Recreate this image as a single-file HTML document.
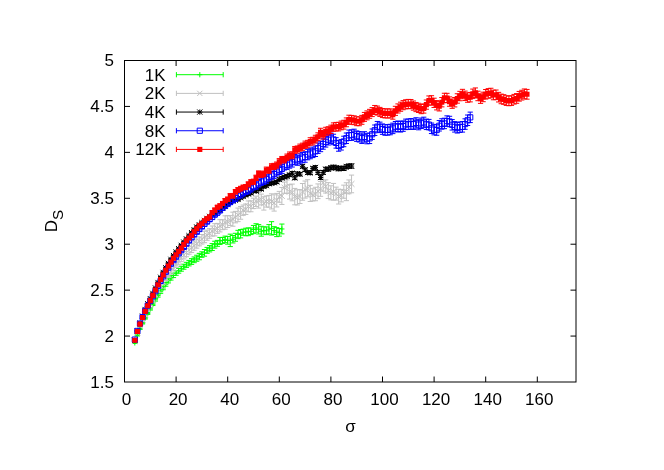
<!DOCTYPE html>
<html><head><meta charset="utf-8"><title>D_S vs sigma</title>
<style>
html,body{margin:0;padding:0;background:#fff;}
body{width:664px;height:470px;overflow:hidden;font-family:"Liberation Sans",sans-serif;}
</style></head><body>
<svg width="664" height="470" viewBox="0 0 664 470" style="display:block;will-change:transform;font-family:'Liberation Sans',sans-serif;font-size:17.0px">
<rect width="664" height="470" fill="#fff"/>
<path d="M124.5 336.07h5.5M576.0 336.07h-5.5M124.5 290.14h5.5M576.0 290.14h-5.5M124.5 244.21h5.5M576.0 244.21h-5.5M124.5 198.29h5.5M576.0 198.29h-5.5M124.5 152.36h5.5M576.0 152.36h-5.5M124.5 106.43h5.5M576.0 106.43h-5.5M176.10 382.0v-5.5M176.10 60.5v5.5M227.70 382.0v-5.5M227.70 60.5v5.5M279.30 382.0v-5.5M279.30 60.5v5.5M330.90 382.0v-5.5M330.90 60.5v5.5M382.50 382.0v-5.5M382.50 60.5v5.5M434.10 382.0v-5.5M434.10 60.5v5.5M485.70 382.0v-5.5M485.70 60.5v5.5M537.30 382.0v-5.5M537.30 60.5v5.5" stroke="#000" stroke-width="1" fill="none"/>
<text x="114.00" y="387.90" text-anchor="end">1.5</text>
<text x="114.00" y="341.97" text-anchor="end">2</text>
<text x="114.00" y="296.04" text-anchor="end">2.5</text>
<text x="114.00" y="250.11" text-anchor="end">3</text>
<text x="114.00" y="204.19" text-anchor="end">3.5</text>
<text x="114.00" y="158.26" text-anchor="end">4</text>
<text x="114.00" y="112.33" text-anchor="end">4.5</text>
<text x="114.00" y="66.40" text-anchor="end">5</text>
<text x="126.50" y="405.15" text-anchor="middle">0</text>
<text x="178.10" y="405.15" text-anchor="middle">20</text>
<text x="229.70" y="405.15" text-anchor="middle">40</text>
<text x="281.30" y="405.15" text-anchor="middle">60</text>
<text x="332.90" y="405.15" text-anchor="middle">80</text>
<text x="384.50" y="405.15" text-anchor="middle">100</text>
<text x="436.10" y="405.15" text-anchor="middle">120</text>
<text x="487.70" y="405.15" text-anchor="middle">140</text>
<text x="539.30" y="405.15" text-anchor="middle">160</text>
<text x="350.5" y="431.5" text-anchor="middle">σ</text>
<text transform="translate(57.4 232.2) rotate(-90)">D<tspan dy="5.6" font-size="15.30px">S</tspan></text>
<path d="M134.82 342.41V343.51M132.22 342.41H137.42M132.22 343.51H137.42M137.40 334.71V335.99M134.80 334.71H140.00M134.80 335.99H140.00M139.98 327.99V329.46M137.38 327.99H142.58M137.38 329.46H142.58M142.56 322.33V323.98M139.96 322.33H145.16M139.96 323.98H145.16M145.14 317.24V319.08M142.54 317.24H147.74M142.54 319.08H147.74M147.72 312.48V314.50M145.12 312.48H150.32M145.12 314.50H150.32M150.30 307.87V310.08M147.70 307.87H152.90M147.70 310.08H152.90M152.88 303.06V305.53M150.28 303.06H155.48M150.28 305.53H155.48M155.46 298.39V301.12M152.86 298.39H158.06M152.86 301.12H158.06M158.04 294.12V297.11M155.44 294.12H160.64M155.44 297.11H160.64M160.62 290.10V293.35M158.02 290.10H163.22M158.02 293.35H163.22M163.20 286.22V289.74M160.60 286.22H165.80M160.60 289.74H165.80M165.78 282.42V286.19M163.18 282.42H168.38M163.18 286.19H168.38M168.36 278.91V282.93M165.76 278.91H170.96M165.76 282.93H170.96M170.94 275.94V280.09M168.34 275.94H173.54M168.34 280.09H173.54M173.52 273.25V277.58M170.92 273.25H176.12M170.92 277.58H176.12M176.10 270.78V275.27M173.50 270.78H178.70M173.50 275.27H178.70M178.68 268.42V273.18M176.08 268.42H181.28M176.08 273.18H181.28M181.26 266.23V271.19M178.66 266.23H183.86M178.66 271.19H183.86M183.84 264.23V269.21M181.24 264.23H186.44M181.24 269.21H186.44M186.42 262.31V267.42M183.82 262.31H189.02M183.82 267.42H189.02M189.00 260.42V265.90M186.40 260.42H191.60M186.40 265.90H191.60M191.58 258.67V264.42M188.98 258.67H194.18M188.98 264.42H194.18M194.16 256.95V262.70M191.56 256.95H196.76M191.56 262.70H196.76M196.74 255.22V261.27M194.14 255.22H199.34M194.14 261.27H199.34M199.32 253.37V259.77M196.72 253.37H201.92M196.72 259.77H201.92M201.90 251.79V257.30M199.30 251.79H204.50M199.30 257.30H204.50M204.48 249.53V256.17M201.88 249.53H207.08M201.88 256.17H207.08M207.06 247.40V253.33M204.46 247.40H209.66M204.46 253.33H209.66M209.64 245.59V251.90M207.04 245.59H212.24M207.04 251.90H212.24M212.22 243.61V250.52M209.62 243.61H214.82M209.62 250.52H214.82M214.80 241.24V248.14M212.20 241.24H217.40M212.20 248.14H217.40M217.38 240.38V246.34M214.78 240.38H219.98M214.78 246.34H219.98M219.96 237.43V244.44M217.36 237.43H222.56M217.36 244.44H222.56M222.54 237.46V243.36M219.94 237.46H225.14M219.94 243.36H225.14M225.12 236.11V242.68M222.52 236.11H227.72M222.52 242.68H227.72M227.70 236.47V244.18M225.10 236.47H230.30M225.10 244.18H230.30M230.28 234.16V246.60M227.68 234.16H232.88M227.68 246.60H232.88M232.86 235.50V242.96M230.26 235.50H235.46M230.26 242.96H235.46M235.44 233.30V241.24M232.84 233.30H238.04M232.84 241.24H238.04M238.02 230.33V238.67M235.42 230.33H240.62M235.42 238.67H240.62M240.60 229.55V237.86M238.00 229.55H243.20M238.00 237.86H243.20M243.18 229.15V235.29M240.58 229.15H245.78M240.58 235.29H245.78M245.76 228.23V235.74M243.16 228.23H248.36M243.16 235.74H248.36M248.34 227.91V235.66M245.74 227.91H250.94M245.74 235.66H250.94M250.92 228.03V234.59M248.32 228.03H253.52M248.32 234.59H253.52M253.50 225.44V233.65M250.90 225.44H256.10M250.90 233.65H256.10M256.08 223.72V232.26M253.48 223.72H258.68M253.48 232.26H258.68M258.66 224.58V233.97M256.06 224.58H261.26M256.06 233.97H261.26M261.24 226.28V236.18M258.64 226.28H263.84M258.64 236.18H263.84M263.82 226.92V234.18M261.22 226.92H266.42M261.22 234.18H266.42M266.40 226.95V234.65M263.80 226.95H269.00M263.80 234.65H269.00M268.98 224.60V233.82M266.38 224.60H271.58M266.38 233.82H271.58M271.56 221.67V235.02M268.96 221.67H274.16M268.96 235.02H274.16M274.14 226.68V234.44M271.54 226.68H276.74M271.54 234.44H276.74M276.72 227.62V236.64M274.12 227.62H279.32M274.12 236.64H279.32M279.30 228.52V236.14M276.70 228.52H281.90M276.70 236.14H281.90M281.88 224.06V233.87M279.28 224.06H284.48M279.28 233.87H284.48" stroke="#00ff00" fill="none" stroke-width="1"/>
<path d="M132.22 342.96H137.42M134.82 340.36V345.56M134.80 335.35H140.00M137.40 332.75V337.95M137.38 328.72H142.58M139.98 326.12V331.32M139.96 323.15H145.16M142.56 320.55V325.75M142.54 318.16H147.74M145.14 315.56V320.76M145.12 313.49H150.32M147.72 310.89V316.09M147.70 308.97H152.90M150.30 306.37V311.57M150.28 304.30H155.48M152.88 301.70V306.90M152.86 299.76H158.06M155.46 297.16V302.36M155.44 295.61H160.64M158.04 293.01V298.21M158.02 291.73H163.22M160.62 289.13V294.33M160.60 287.98H165.80M163.20 285.38V290.58M163.18 284.31H168.38M165.78 281.71V286.91M165.76 280.92H170.96M168.36 278.32V283.52M168.34 278.01H173.54M170.94 275.41V280.61M170.92 275.42H176.12M173.52 272.82V278.02M173.50 273.02H178.70M176.10 270.42V275.62M176.08 270.80H181.28M178.68 268.20V273.40M178.66 268.71H183.86M181.26 266.11V271.31M181.24 266.72H186.44M183.84 264.12V269.32M183.82 264.86H189.02M186.42 262.26V267.46M186.40 263.16H191.60M189.00 260.56V265.76M188.98 261.55H194.18M191.58 258.95V264.15M191.56 259.82H196.76M194.16 257.22V262.42M194.14 258.24H199.34M196.74 255.64V260.84M196.72 256.57H201.92M199.32 253.97V259.17M199.30 254.55H204.50M201.90 251.95V257.15M201.88 252.85H207.08M204.48 250.25V255.45M204.46 250.37H209.66M207.06 247.77V252.97M207.04 248.74H212.24M209.64 246.14V251.34M209.62 247.06H214.82M212.22 244.46V249.66M212.20 244.69H217.40M214.80 242.09V247.29M214.78 243.36H219.98M217.38 240.76V245.96M217.36 240.94H222.56M219.96 238.34V243.54M219.94 240.41H225.14M222.54 237.81V243.01M222.52 239.39H227.72M225.12 236.79V241.99M225.10 240.33H230.30M227.70 237.73V242.93M227.68 240.38H232.88M230.28 237.78V242.98M230.26 239.23H235.46M232.86 236.63V241.83M232.84 237.27H238.04M235.44 234.67V239.87M235.42 234.50H240.62M238.02 231.90V237.10M238.00 233.71H243.20M240.60 231.11V236.31M240.58 232.22H245.78M243.18 229.62V234.82M243.16 231.98H248.36M245.76 229.38V234.58M245.74 231.78H250.94M248.34 229.18V234.38M248.32 231.31H253.52M250.92 228.71V233.91M250.90 229.54H256.10M253.50 226.94V232.14M253.48 227.99H258.68M256.08 225.39V230.59M256.06 229.28H261.26M258.66 226.68V231.88M258.64 231.23H263.84M261.24 228.63V233.83M261.22 230.55H266.42M263.82 227.95V233.15M263.80 230.80H269.00M266.40 228.20V233.40M266.38 229.21H271.58M268.98 226.61V231.81M268.96 228.35H274.16M271.56 225.75V230.95M271.54 230.56H276.74M274.14 227.96V233.16M274.12 232.13H279.32M276.72 229.53V234.73M276.70 232.33H281.90M279.30 229.73V234.93M279.28 228.96H284.48M281.88 226.36V231.56" stroke="#00ff00" fill="none" stroke-width="1"/>

<path d="M134.82 340.76V341.49M132.22 340.76H137.42M132.22 341.49H137.42M137.40 332.55V333.56M134.80 332.55H140.00M134.80 333.56H140.00M139.98 325.32V326.61M137.38 325.32H142.58M137.38 326.61H142.58M142.56 319.16V320.72M139.96 319.16H145.16M139.96 320.72H145.16M145.14 313.57V315.40M142.54 313.57H147.74M142.54 315.40H147.74M147.72 308.25V310.36M145.12 308.25H150.32M145.12 310.36H150.32M150.30 303.19V305.57M147.70 303.19H152.90M147.70 305.57H152.90M152.88 298.12V300.93M150.28 298.12H155.48M150.28 300.93H155.48M155.46 293.10V296.34M152.86 293.10H158.06M152.86 296.34H158.06M158.04 288.27V291.92M155.44 288.27H160.64M155.44 291.92H160.64M160.62 283.72V287.80M158.02 283.72H163.22M158.02 287.80H163.22M163.20 279.57V284.07M160.60 279.57H165.80M160.60 284.07H165.80M165.78 275.73V280.66M163.18 275.73H168.38M163.18 280.66H168.38M168.36 272.08V277.40M165.76 272.08H170.96M165.76 277.40H170.96M170.94 268.37V274.26M168.34 268.37H173.54M168.34 274.26H173.54M173.52 264.83V270.88M170.92 264.83H176.12M170.92 270.88H176.12M176.10 261.24V267.64M173.50 261.24H178.70M173.50 267.64H178.70M178.68 257.58V264.68M176.08 257.58H181.28M176.08 264.68H181.28M181.26 254.40V261.61M178.66 254.40H183.86M178.66 261.61H183.86M183.84 251.38V258.91M181.24 251.38H186.44M181.24 258.91H186.44M186.42 248.35V256.76M183.82 248.35H189.02M183.82 256.76H189.02M189.00 246.08V254.23M186.40 246.08H191.60M186.40 254.23H191.60M191.58 243.22V252.47M188.98 243.22H194.18M188.98 252.47H194.18M194.16 241.03V250.31M191.56 241.03H196.76M191.56 250.31H196.76M196.74 239.04V248.14M194.14 239.04H199.34M194.14 248.14H199.34M199.32 236.96V245.83M196.72 236.96H201.92M196.72 245.83H201.92M201.90 234.49V244.03M199.30 234.49H204.50M199.30 244.03H204.50M204.48 231.28V242.67M201.88 231.28H207.08M201.88 242.67H207.08M207.06 230.13V240.31M204.46 230.13H209.66M204.46 240.31H209.66M209.64 228.68V238.31M207.04 228.68H212.24M207.04 238.31H212.24M212.22 225.98V236.12M209.62 225.98H214.82M209.62 236.12H214.82M214.80 223.70V235.88M212.20 223.70H217.40M212.20 235.88H217.40M217.38 223.43V233.35M214.78 223.43H219.98M214.78 233.35H219.98M219.96 219.68V231.91M217.36 219.68H222.56M217.36 231.91H222.56M222.54 219.71V229.69M219.94 219.71H225.14M219.94 229.69H225.14M225.12 215.82V229.23M222.52 215.82H227.72M222.52 229.23H227.72M227.70 215.67V227.50M225.10 215.67H230.30M225.10 227.50H230.30M230.28 215.65V225.44M227.68 215.65H232.88M227.68 225.44H232.88M232.86 212.17V226.23M230.26 212.17H235.46M230.26 226.23H235.46M235.44 211.36V222.83M232.84 211.36H238.04M232.84 222.83H238.04M238.02 208.08V221.63M235.42 208.08H240.62M235.42 221.63H240.62M240.60 206.60V219.22M238.00 206.60H243.20M238.00 219.22H243.20M243.18 205.03V215.35M240.58 205.03H245.78M240.58 215.35H245.78M245.76 203.97V214.44M243.16 203.97H248.36M243.16 214.44H248.36M248.34 200.94V211.73M245.74 200.94H250.94M245.74 211.73H250.94M250.92 200.83V211.76M248.32 200.83H253.52M248.32 211.76H253.52M253.50 198.18V208.57M250.90 198.18H256.10M250.90 208.57H256.10M256.08 196.13V206.55M253.48 196.13H258.68M253.48 206.55H258.68M258.66 192.39V208.08M256.06 192.39H261.26M256.06 208.08H261.26M261.24 194.12V204.95M258.64 194.12H263.84M258.64 204.95H263.84M263.82 196.74V210.08M261.22 196.74H266.42M261.22 210.08H266.42M266.40 195.93V207.06M263.80 195.93H269.00M263.80 207.06H269.00M268.98 195.42V207.20M266.38 195.42H271.58M266.38 207.20H271.58M271.56 193.80V208.92M268.96 193.80H274.16M268.96 208.92H274.16M274.14 194.81V211.08M271.54 194.81H276.74M271.54 211.08H276.74M276.72 193.40V206.95M274.12 193.40H279.32M274.12 206.95H279.32M279.30 191.39V202.20M276.70 191.39H281.90M276.70 202.20H281.90M281.88 187.48V204.44M279.28 187.48H284.48M279.28 204.44H284.48M284.46 182.02V193.22M281.86 182.02H287.06M281.86 193.22H287.06M287.04 179.92V193.32M284.44 179.92H289.64M284.44 193.32H289.64M289.62 184.67V199.08M287.02 184.67H292.22M287.02 199.08H292.22M292.20 184.09V200.81M289.60 184.09H294.80M289.60 200.81H294.80M294.78 188.42V204.80M292.18 188.42H297.38M292.18 204.80H297.38M297.36 189.81V204.94M294.76 189.81H299.96M294.76 204.94H299.96M299.94 189.60V203.47M297.34 189.60H302.54M297.34 203.47H302.54M302.52 183.50V200.26M299.92 183.50H305.12M299.92 200.26H305.12M305.10 181.02V198.10M302.50 181.02H307.70M302.50 198.10H307.70M307.68 179.66V196.79M305.08 179.66H310.28M305.08 196.79H310.28M310.26 185.34V201.49M307.66 185.34H312.86M307.66 201.49H312.86M312.84 188.75V200.90M310.24 188.75H315.44M310.24 200.90H315.44M315.42 187.26V200.73M312.82 187.26H318.02M312.82 200.73H318.02M318.00 183.91V198.62M315.40 183.91H320.60M315.40 198.62H320.60M320.58 181.46V196.31M317.98 181.46H323.18M317.98 196.31H323.18M323.16 174.13V191.15M320.56 174.13H325.76M320.56 191.15H325.76M325.74 179.89V193.03M323.14 179.89H328.34M323.14 193.03H328.34M328.32 182.61V198.56M325.72 182.61H330.92M325.72 198.56H330.92M330.90 185.78V199.85M328.30 185.78H333.50M328.30 199.85H333.50M333.48 183.41V200.14M330.88 183.41H336.08M330.88 200.14H336.08M336.06 187.13V200.07M333.46 187.13H338.66M333.46 200.07H338.66M338.64 189.19V204.00M336.04 189.19H341.24M336.04 204.00H341.24M341.22 189.52V201.89M338.62 189.52H343.82M338.62 201.89H343.82M343.80 185.13V198.23M341.20 185.13H346.40M341.20 198.23H346.40M346.38 182.75V200.65M343.78 182.75H348.98M343.78 200.65H348.98M348.96 179.93V193.76M346.36 179.93H351.56M346.36 193.76H351.56M351.54 175.09V192.76M348.94 175.09H354.14M348.94 192.76H354.14" stroke="#c0c0c0" fill="none" stroke-width="1"/>
<path d="M131.92 338.22L137.72 344.02M131.92 344.02L137.72 338.22M134.50 330.15L140.30 335.95M134.50 335.95L140.30 330.15M137.08 323.07L142.88 328.87M137.08 328.87L142.88 323.07M139.66 317.04L145.46 322.84M139.66 322.84L145.46 317.04M142.24 311.59L148.04 317.38M142.24 317.38L148.04 311.59M144.82 306.40L150.62 312.20M144.82 312.20L150.62 306.40M147.40 301.48L153.20 307.28M147.40 307.28L153.20 301.48M149.98 296.62L155.78 302.42M149.98 302.42L155.78 296.62M152.56 291.82L158.36 297.62M152.56 297.62L158.36 291.82M155.14 287.20L160.94 293.00M155.14 293.00L160.94 287.20M157.72 282.86L163.52 288.66M157.72 288.66L163.52 282.86M160.30 278.92L166.10 284.72M160.30 284.72L166.10 278.92M162.88 275.29L168.68 281.09M162.88 281.09L168.68 275.29M165.46 271.84L171.26 277.64M165.46 277.64L171.26 271.84M168.04 268.42L173.84 274.22M168.04 274.22L173.84 268.42M170.62 264.96L176.42 270.76M170.62 270.76L176.42 264.96M173.20 261.54L179.00 267.34M173.20 267.34L179.00 261.54M175.78 258.23L181.58 264.03M175.78 264.03L181.58 258.23M178.36 255.10L184.16 260.90M178.36 260.90L184.16 255.10M180.94 252.25L186.74 258.05M180.94 258.05L186.74 252.25M183.52 249.65L189.32 255.45M183.52 255.45L189.32 249.65M186.10 247.25L191.90 253.05M186.10 253.05L191.90 247.25M188.68 244.95L194.48 250.75M188.68 250.75L194.48 244.95M191.26 242.77L197.06 248.57M191.26 248.57L197.06 242.77M193.84 240.69L199.64 246.49M193.84 246.49L199.64 240.69M196.42 238.49L202.22 244.29M196.42 244.29L202.22 238.49M199.00 236.36L204.80 242.16M199.00 242.16L204.80 236.36M201.58 234.08L207.38 239.88M201.58 239.88L207.38 234.08M204.16 232.32L209.96 238.12M204.16 238.12L209.96 232.32M206.74 230.60L212.54 236.40M206.74 236.40L212.54 230.60M209.32 228.15L215.12 233.95M209.32 233.95L215.12 228.15M211.90 226.89L217.70 232.69M211.90 232.69L217.70 226.89M214.48 225.49L220.28 231.29M214.48 231.29L220.28 225.49M217.06 222.89L222.86 228.69M217.06 228.69L222.86 222.89M219.64 221.80L225.44 227.60M219.64 227.60L225.44 221.80M222.22 219.63L228.02 225.43M222.22 225.43L228.02 219.63M224.80 218.68L230.60 224.48M224.80 224.48L230.60 218.68M227.38 217.64L233.18 223.44M227.38 223.44L233.18 217.64M229.96 216.30L235.76 222.10M229.96 222.10L235.76 216.30M232.54 214.20L238.34 220.00M232.54 220.00L238.34 214.20M235.12 211.95L240.92 217.75M235.12 217.75L240.92 211.95M237.70 210.01L243.50 215.81M237.70 215.81L243.50 210.01M240.28 207.29L246.08 213.09M240.28 213.09L246.08 207.29M242.86 206.31L248.66 212.11M242.86 212.11L248.66 206.31M245.44 203.44L251.24 209.24M245.44 209.24L251.24 203.44M248.02 203.39L253.82 209.19M248.02 209.19L253.82 203.39M250.60 200.48L256.40 206.28M250.60 206.28L256.40 200.48M253.18 198.44L258.98 204.24M253.18 204.24L258.98 198.44M255.76 197.34L261.56 203.14M255.76 203.14L261.56 197.34M258.34 196.63L264.14 202.43M258.34 202.43L264.14 196.63M260.92 200.51L266.72 206.31M260.92 206.31L266.72 200.51M263.50 198.60L269.30 204.40M263.50 204.40L269.30 198.60M266.08 198.41L271.88 204.21M266.08 204.21L271.88 198.41M268.66 198.46L274.46 204.26M268.66 204.26L274.46 198.46M271.24 200.04L277.04 205.84M271.24 205.84L277.04 200.04M273.82 197.28L279.62 203.08M273.82 203.08L279.62 197.28M276.40 193.90L282.20 199.70M276.40 199.70L282.20 193.90M278.98 193.06L284.78 198.86M278.98 198.86L284.78 193.06M281.56 184.72L287.36 190.52M281.56 190.52L287.36 184.72M284.14 183.72L289.94 189.52M284.14 189.52L289.94 183.72M286.72 188.98L292.52 194.78M286.72 194.78L292.52 188.98M289.30 189.55L295.10 195.35M289.30 195.35L295.10 189.55M291.88 193.71L297.68 199.51M291.88 199.51L297.68 193.71M294.46 194.48L300.26 200.28M294.46 200.28L300.26 194.48M297.04 193.63L302.84 199.43M297.04 199.43L302.84 193.63M299.62 188.98L305.42 194.78M299.62 194.78L305.42 188.98M302.20 186.66L308.00 192.46M302.20 192.46L308.00 186.66M304.78 185.33L310.58 191.13M304.78 191.13L310.58 185.33M307.36 190.51L313.16 196.31M307.36 196.31L313.16 190.51M309.94 191.92L315.74 197.72M309.94 197.72L315.74 191.92M312.52 191.10L318.32 196.90M312.52 196.90L318.32 191.10M315.10 188.37L320.90 194.17M315.10 194.17L320.90 188.37M317.68 185.98L323.48 191.78M317.68 191.78L323.48 185.98M320.26 179.74L326.06 185.54M320.26 185.54L326.06 179.74M322.84 183.56L328.64 189.36M322.84 189.36L328.64 183.56M325.42 187.68L331.22 193.48M325.42 193.48L331.22 187.68M328.00 189.92L333.80 195.72M328.00 195.72L333.80 189.92M330.58 188.88L336.38 194.68M330.58 194.68L336.38 188.88M333.16 190.70L338.96 196.50M333.16 196.50L338.96 190.70M335.74 193.69L341.54 199.49M335.74 199.49L341.54 193.69M338.32 192.81L344.12 198.61M338.32 198.61L344.12 192.81M340.90 188.78L346.70 194.58M340.90 194.58L346.70 188.78M343.48 188.80L349.28 194.60M343.48 194.60L349.28 188.80M346.06 183.94L351.86 189.74M346.06 189.74L351.86 183.94M348.64 181.02L354.44 186.82M348.64 186.82L354.44 181.02" stroke="#c0c0c0" fill="none" stroke-width="1"/>

<path d="M134.82 339.85V340.74M132.22 339.85H137.42M132.22 340.74H137.42M137.40 330.64V331.58M134.80 330.64H140.00M134.80 331.58H140.00M139.98 322.73V323.70M137.38 322.73H142.58M137.38 323.70H142.58M142.56 315.63V316.64M139.96 315.63H145.16M139.96 316.64H145.16M145.14 309.00V310.05M142.54 309.00H147.74M142.54 310.05H147.74M147.72 303.21V304.30M145.12 303.21H150.32M145.12 304.30H150.32M150.30 298.06V299.19M147.70 298.06H152.90M147.70 299.19H152.90M152.88 292.82V293.99M150.28 292.82H155.48M150.28 293.99H155.48M155.46 287.40V288.61M152.86 287.40H158.06M152.86 288.61H158.06M158.04 281.91V283.16M155.44 281.91H160.64M155.44 283.16H160.64M160.62 276.64V277.93M158.02 276.64H163.22M158.02 277.93H163.22M163.20 271.75V273.08M160.60 271.75H165.80M160.60 273.08H165.80M165.78 267.10V268.47M163.18 267.10H168.38M163.18 268.47H168.38M168.36 262.71V264.11M165.76 262.71H170.96M165.76 264.11H170.96M170.94 258.62V260.07M168.34 258.62H173.54M168.34 260.07H173.54M173.52 254.80V256.29M170.92 254.80H176.12M170.92 256.29H176.12M176.10 251.17V252.70M173.50 251.17H178.70M173.50 252.70H178.70M178.68 247.86V249.43M176.08 247.86H181.28M176.08 249.43H181.28M181.26 244.59V246.20M178.66 244.59H183.86M178.66 246.20H183.86M183.84 241.31V242.96M181.24 241.31H186.44M181.24 242.96H186.44M186.42 238.04V239.73M183.82 238.04H189.02M183.82 239.73H189.02M189.00 234.85V236.57M186.40 234.85H191.60M186.40 236.57H191.60M191.58 231.77V233.53M188.98 231.77H194.18M188.98 233.53H194.18M194.16 228.85V230.66M191.56 228.85H196.76M191.56 230.66H196.76M196.74 226.07V227.91M194.14 226.07H199.34M194.14 227.91H199.34M199.32 223.82V225.70M196.72 223.82H201.92M196.72 225.70H201.92M201.90 221.64V223.57M199.30 221.64H204.50M199.30 223.57H204.50M204.48 219.51V221.48M201.88 219.51H207.08M201.88 221.48H207.08M207.06 217.42V219.42M204.46 217.42H209.66M204.46 219.42H209.66M209.64 215.38V217.42M207.04 215.38H212.24M207.04 217.42H212.24M212.22 213.75V215.83M209.62 213.75H214.82M209.62 215.83H214.82M214.80 212.16V214.28M212.20 212.16H217.40M212.20 214.28H217.40M217.38 210.61V212.78M214.78 210.61H219.98M214.78 212.78H219.98M219.96 208.61V210.82M217.36 208.61H222.56M217.36 210.82H222.56M222.54 206.63V208.87M219.94 206.63H225.14M219.94 208.87H225.14M225.12 204.68V206.96M222.52 204.68H227.72M222.52 206.96H227.72M227.70 202.91V205.23M225.10 202.91H230.30M225.10 205.23H230.30M230.28 201.12V203.48M227.68 201.12H232.88M227.68 203.48H232.88M232.86 199.86V202.26M230.26 199.86H235.46M230.26 202.26H235.46M235.44 198.99V201.43M232.84 198.99H238.04M232.84 201.43H238.04M238.02 198.23V200.71M235.42 198.23H240.62M235.42 200.71H240.62M240.60 196.52V199.04M238.00 196.52H243.20M238.00 199.04H243.20M243.18 195.23V197.79M240.58 195.23H245.78M240.58 197.79H245.78M245.76 193.80V196.40M243.16 193.80H248.36M243.16 196.40H248.36M248.34 192.71V195.35M245.74 192.71H250.94M245.74 195.35H250.94M250.92 191.73V194.40M248.32 191.73H253.52M248.32 194.40H253.52M253.50 189.45V192.17M250.90 189.45H256.10M250.90 192.17H256.10M256.08 189.77V192.53M253.48 189.77H258.68M253.48 192.53H258.68M258.66 187.39V190.19M256.06 187.39H261.26M256.06 190.19H261.26M261.24 187.63V190.46M258.64 187.63H263.84M258.64 190.46H263.84M263.82 185.08V187.95M261.22 185.08H266.42M261.22 187.95H266.42M266.40 184.18V187.09M263.80 184.18H269.00M263.80 187.09H269.00M268.98 182.33V185.29M266.38 182.33H271.58M266.38 185.29H271.58M271.56 181.76V184.75M268.96 181.76H274.16M268.96 184.75H274.16M274.14 181.22V184.25M271.54 181.22H276.74M271.54 184.25H276.74M276.72 180.38V183.46M274.12 180.38H279.32M274.12 183.46H279.32M279.30 177.93V181.04M276.70 177.93H281.90M276.70 181.04H281.90M281.88 176.47V179.63M279.28 176.47H284.48M279.28 179.63H284.48M284.46 175.41V178.60M281.86 175.41H287.06M281.86 178.60H287.06M287.04 174.61V177.84M284.44 174.61H289.64M284.44 177.84H289.64M289.62 173.30V176.57M287.02 173.30H292.22M287.02 176.57H292.22M292.20 171.55V174.86M289.60 171.55H294.80M289.60 174.86H294.80M294.78 176.22V179.57M292.18 176.22H297.38M292.18 179.57H297.38M297.36 172.01V175.40M294.76 172.01H299.96M294.76 175.40H299.96M299.94 172.41V175.84M297.34 172.41H302.54M297.34 175.84H302.54M302.52 164.62V168.09M299.92 164.62H305.12M299.92 168.09H305.12M305.10 168.05V171.56M302.50 168.05H307.70M302.50 171.56H307.70M307.68 170.78V174.33M305.08 170.78H310.28M305.08 174.33H310.28M310.26 171.00V174.59M307.66 171.00H312.86M307.66 174.59H312.86M312.84 166.73V170.36M310.24 166.73H315.44M310.24 170.36H315.44M315.42 165.61V169.28M312.82 165.61H318.02M312.82 169.28H318.02M318.00 170.65V174.36M315.40 170.65H320.60M315.40 174.36H320.60M320.58 175.65V179.40M317.98 175.65H323.18M317.98 179.40H323.18M323.16 170.52V174.31M320.56 170.52H325.76M320.56 174.31H325.76M325.74 167.31V171.14M323.14 167.31H328.34M323.14 171.14H328.34M328.32 167.19V171.06M325.72 167.19H330.92M325.72 171.06H330.92M330.90 165.89V169.80M328.30 165.89H333.50M328.30 169.80H333.50M333.48 165.22V169.17M330.88 165.22H336.08M330.88 169.17H336.08M336.06 165.84V169.83M333.46 165.84H338.66M333.46 169.83H338.66M338.64 166.71V170.74M336.04 166.71H341.24M336.04 170.74H341.24M341.22 166.23V170.29M338.62 166.23H343.82M338.62 170.29H343.82M343.80 166.40V170.51M341.20 166.40H346.40M341.20 170.51H346.40M346.38 164.72V168.86M343.78 164.72H348.98M343.78 168.86H348.98M348.96 164.03V168.22M346.36 164.03H351.56M346.36 168.22H351.56M351.54 163.95V168.17M348.94 163.95H354.14M348.94 168.17H354.14" stroke="#000000" fill="none" stroke-width="1"/>
<path d="M132.22 340.30H137.42M134.82 337.70V342.90M132.22 337.70L137.42 342.90M132.22 342.90L137.42 337.70M134.80 331.11H140.00M137.40 328.51V333.71M134.80 328.51L140.00 333.71M134.80 333.71L140.00 328.51M137.38 323.21H142.58M139.98 320.61V325.81M137.38 320.61L142.58 325.81M137.38 325.81L142.58 320.61M139.96 316.14H145.16M142.56 313.54V318.74M139.96 313.54L145.16 318.74M139.96 318.74L145.16 313.54M142.54 309.52H147.74M145.14 306.92V312.12M142.54 306.92L147.74 312.12M142.54 312.12L147.74 306.92M145.12 303.75H150.32M147.72 301.15V306.35M145.12 301.15L150.32 306.35M145.12 306.35L150.32 301.15M147.70 298.62H152.90M150.30 296.02V301.22M147.70 296.02L152.90 301.22M147.70 301.22L152.90 296.02M150.28 293.40H155.48M152.88 290.80V296.00M150.28 290.80L155.48 296.00M150.28 296.00L155.48 290.80M152.86 288.00H158.06M155.46 285.40V290.60M152.86 285.40L158.06 290.60M152.86 290.60L158.06 285.40M155.44 282.53H160.64M158.04 279.93V285.13M155.44 279.93L160.64 285.13M155.44 285.13L160.64 279.93M158.02 277.28H163.22M160.62 274.68V279.88M158.02 274.68L163.22 279.88M158.02 279.88L163.22 274.68M160.60 272.42H165.80M163.20 269.82V275.02M160.60 269.82L165.80 275.02M160.60 275.02L165.80 269.82M163.18 267.78H168.38M165.78 265.18V270.38M163.18 265.18L168.38 270.38M163.18 270.38L168.38 265.18M165.76 263.41H170.96M168.36 260.81V266.01M165.76 260.81L170.96 266.01M165.76 266.01L170.96 260.81M168.34 259.34H173.54M170.94 256.74V261.94M168.34 256.74L173.54 261.94M168.34 261.94L173.54 256.74M170.92 255.54H176.12M173.52 252.94V258.14M170.92 252.94L176.12 258.14M170.92 258.14L176.12 252.94M173.50 251.94H178.70M176.10 249.34V254.54M173.50 249.34L178.70 254.54M173.50 254.54L178.70 249.34M176.08 248.64H181.28M178.68 246.04V251.24M176.08 246.04L181.28 251.24M176.08 251.24L181.28 246.04M178.66 245.39H183.86M181.26 242.79V247.99M178.66 242.79L183.86 247.99M178.66 247.99L183.86 242.79M181.24 242.13H186.44M183.84 239.53V244.73M181.24 239.53L186.44 244.73M181.24 244.73L186.44 239.53M183.82 238.89H189.02M186.42 236.29V241.49M183.82 236.29L189.02 241.49M183.82 241.49L189.02 236.29M186.40 235.71H191.60M189.00 233.11V238.31M186.40 233.11L191.60 238.31M186.40 238.31L191.60 233.11M188.98 232.65H194.18M191.58 230.05V235.25M188.98 230.05L194.18 235.25M188.98 235.25L194.18 230.05M191.56 229.75H196.76M194.16 227.15V232.35M191.56 227.15L196.76 232.35M191.56 232.35L196.76 227.15M194.14 226.99H199.34M196.74 224.39V229.59M194.14 224.39L199.34 229.59M194.14 229.59L199.34 224.39M196.72 224.76H201.92M199.32 222.16V227.36M196.72 222.16L201.92 227.36M196.72 227.36L201.92 222.16M199.30 222.60H204.50M201.90 220.00V225.20M199.30 220.00L204.50 225.20M199.30 225.20L204.50 220.00M201.88 220.49H207.08M204.48 217.89V223.09M201.88 217.89L207.08 223.09M201.88 223.09L207.08 217.89M204.46 218.42H209.66M207.06 215.82V221.02M204.46 215.82L209.66 221.02M204.46 221.02L209.66 215.82M207.04 216.40H212.24M209.64 213.80V219.00M207.04 213.80L212.24 219.00M207.04 219.00L212.24 213.80M209.62 214.79H214.82M212.22 212.19V217.39M209.62 212.19L214.82 217.39M209.62 217.39L214.82 212.19M212.20 213.22H217.40M214.80 210.62V215.82M212.20 210.62L217.40 215.82M212.20 215.82L217.40 210.62M214.78 211.70H219.98M217.38 209.10V214.30M214.78 209.10L219.98 214.30M214.78 214.30L219.98 209.10M217.36 209.71H222.56M219.96 207.11V212.31M217.36 207.11L222.56 212.31M217.36 212.31L222.56 207.11M219.94 207.75H225.14M222.54 205.15V210.35M219.94 205.15L225.14 210.35M219.94 210.35L225.14 205.15M222.52 205.82H227.72M225.12 203.22V208.42M222.52 203.22L227.72 208.42M222.52 208.42L227.72 203.22M225.10 204.07H230.30M227.70 201.47V206.67M225.10 201.47L230.30 206.67M225.10 206.67L230.30 201.47M227.68 202.30H232.88M230.28 199.70V204.90M227.68 199.70L232.88 204.90M227.68 204.90L232.88 199.70M230.26 201.06H235.46M232.86 198.46V203.66M230.26 198.46L235.46 203.66M230.26 203.66L235.46 198.46M232.84 200.21H238.04M235.44 197.61V202.81M232.84 197.61L238.04 202.81M232.84 202.81L238.04 197.61M235.42 199.47H240.62M238.02 196.87V202.07M235.42 196.87L240.62 202.07M235.42 202.07L240.62 196.87M238.00 197.78H243.20M240.60 195.18V200.38M238.00 195.18L243.20 200.38M238.00 200.38L243.20 195.18M240.58 196.51H245.78M243.18 193.91V199.11M240.58 193.91L245.78 199.11M240.58 199.11L245.78 193.91M243.16 195.10H248.36M245.76 192.50V197.70M243.16 192.50L248.36 197.70M243.16 197.70L248.36 192.50M245.74 194.03H250.94M248.34 191.43V196.63M245.74 191.43L250.94 196.63M245.74 196.63L250.94 191.43M248.32 193.07H253.52M250.92 190.47V195.67M248.32 190.47L253.52 195.67M248.32 195.67L253.52 190.47M250.90 190.81H256.10M253.50 188.21V193.41M250.90 188.21L256.10 193.41M250.90 193.41L256.10 188.21M253.48 191.15H258.68M256.08 188.55V193.75M253.48 188.55L258.68 193.75M253.48 193.75L258.68 188.55M256.06 188.79H261.26M258.66 186.19V191.39M256.06 186.19L261.26 191.39M256.06 191.39L261.26 186.19M258.64 189.04H263.84M261.24 186.44V191.64M258.64 186.44L263.84 191.64M258.64 191.64L263.84 186.44M261.22 186.52H266.42M263.82 183.92V189.12M261.22 183.92L266.42 189.12M261.22 189.12L266.42 183.92M263.80 185.64H269.00M266.40 183.04V188.24M263.80 183.04L269.00 188.24M263.80 188.24L269.00 183.04M266.38 183.81H271.58M268.98 181.21V186.41M266.38 181.21L271.58 186.41M266.38 186.41L271.58 181.21M268.96 183.25H274.16M271.56 180.65V185.85M268.96 180.65L274.16 185.85M268.96 185.85L274.16 180.65M271.54 182.74H276.74M274.14 180.14V185.34M271.54 180.14L276.74 185.34M271.54 185.34L276.74 180.14M274.12 181.92H279.32M276.72 179.32V184.52M274.12 179.32L279.32 184.52M274.12 184.52L279.32 179.32M276.70 179.49H281.90M279.30 176.89V182.09M276.70 176.89L281.90 182.09M276.70 182.09L281.90 176.89M279.28 178.05H284.48M281.88 175.45V180.65M279.28 175.45L284.48 180.65M279.28 180.65L284.48 175.45M281.86 177.01H287.06M284.46 174.41V179.61M281.86 174.41L287.06 179.61M281.86 179.61L287.06 174.41M284.44 176.23H289.64M287.04 173.63V178.83M284.44 173.63L289.64 178.83M284.44 178.83L289.64 173.63M287.02 174.94H292.22M289.62 172.34V177.54M287.02 172.34L292.22 177.54M287.02 177.54L292.22 172.34M289.60 173.21H294.80M292.20 170.61V175.81M289.60 170.61L294.80 175.81M289.60 175.81L294.80 170.61M292.18 177.90H297.38M294.78 175.30V180.50M292.18 175.30L297.38 180.50M292.18 180.50L297.38 175.30M294.76 173.70H299.96M297.36 171.10V176.30M294.76 171.10L299.96 176.30M294.76 176.30L299.96 171.10M297.34 174.12H302.54M299.94 171.52V176.72M297.34 171.52L302.54 176.72M297.34 176.72L302.54 171.52M299.92 166.35H305.12M302.52 163.75V168.95M299.92 163.75L305.12 168.95M299.92 168.95L305.12 163.75M302.50 169.80H307.70M305.10 167.20V172.40M302.50 167.20L307.70 172.40M302.50 172.40L307.70 167.20M305.08 172.55H310.28M307.68 169.95V175.15M305.08 169.95L310.28 175.15M305.08 175.15L310.28 169.95M307.66 172.79H312.86M310.26 170.19V175.39M307.66 170.19L312.86 175.39M307.66 175.39L312.86 170.19M310.24 168.54H315.44M312.84 165.94V171.14M310.24 165.94L315.44 171.14M310.24 171.14L315.44 165.94M312.82 167.45H318.02M315.42 164.85V170.05M312.82 164.85L318.02 170.05M312.82 170.05L318.02 164.85M315.40 172.51H320.60M318.00 169.91V175.11M315.40 169.91L320.60 175.11M315.40 175.11L320.60 169.91M317.98 177.52H323.18M320.58 174.92V180.12M317.98 174.92L323.18 180.12M317.98 180.12L323.18 174.92M320.56 172.42H325.76M323.16 169.82V175.02M320.56 169.82L325.76 175.02M320.56 175.02L325.76 169.82M323.14 169.23H328.34M325.74 166.63V171.83M323.14 166.63L328.34 171.83M323.14 171.83L328.34 166.63M325.72 169.13H330.92M328.32 166.53V171.73M325.72 166.53L330.92 171.73M325.72 171.73L330.92 166.53M328.30 167.84H333.50M330.90 165.24V170.44M328.30 165.24L333.50 170.44M328.30 170.44L333.50 165.24M330.88 167.19H336.08M333.48 164.59V169.79M330.88 164.59L336.08 169.79M330.88 169.79L336.08 164.59M333.46 167.84H338.66M336.06 165.24V170.44M333.46 165.24L338.66 170.44M333.46 170.44L338.66 165.24M336.04 168.73H341.24M338.64 166.13V171.33M336.04 166.13L341.24 171.33M336.04 171.33L341.24 166.13M338.62 168.26H343.82M341.22 165.66V170.86M338.62 165.66L343.82 170.86M338.62 170.86L343.82 165.66M341.20 168.45H346.40M343.80 165.85V171.05M341.20 165.85L346.40 171.05M341.20 171.05L346.40 165.85M343.78 166.79H348.98M346.38 164.19V169.39M343.78 164.19L348.98 169.39M343.78 169.39L348.98 164.19M346.36 166.13H351.56M348.96 163.53V168.73M346.36 163.53L351.56 168.73M346.36 168.73L351.56 163.53M348.94 166.06H354.14M351.54 163.46V168.66M348.94 163.46L354.14 168.66M348.94 168.66L354.14 163.46" stroke="#000000" fill="none" stroke-width="1"/>

<path d="M134.82 339.04V340.09M132.22 339.04H137.42M132.22 340.09H137.42M137.40 330.35V331.50M134.80 330.35H140.00M134.80 331.50H140.00M139.98 322.96V324.20M137.38 322.96H142.58M137.38 324.20H142.58M142.56 316.38V317.73M139.96 316.38H145.16M139.96 317.73H145.16M145.14 310.27V311.72M142.54 310.27H147.74M142.54 311.72H147.74M147.72 304.88V306.45M145.12 304.88H150.32M145.12 306.45H150.32M150.30 300.14V301.82M147.70 300.14H152.90M147.70 301.82H152.90M152.88 295.31V297.10M150.28 295.31H155.48M150.28 297.10H155.48M155.46 290.30V292.20M152.86 290.30H158.06M152.86 292.20H158.06M158.04 284.96V286.98M155.44 284.96H160.64M155.44 286.98H160.64M160.62 279.84V281.98M158.02 279.84H163.22M158.02 281.98H163.22M163.20 275.10V277.37M160.60 275.10H165.80M160.60 277.37H165.80M165.78 270.60V272.99M163.18 270.60H168.38M163.18 272.99H168.38M168.36 266.35V268.87M165.76 266.35H170.96M165.76 268.87H170.96M170.94 262.42V265.06M168.34 262.42H173.54M168.34 265.06H173.54M173.52 258.74V261.52M170.92 258.74H176.12M170.92 261.52H176.12M176.10 255.26V258.16M173.50 255.26H178.70M173.50 258.16H178.70M178.68 251.90V254.93M176.08 251.90H181.28M176.08 254.93H181.28M181.26 248.58V251.74M178.66 248.58H183.86M178.66 251.74H183.86M183.84 245.24V248.54M181.24 245.24H186.44M181.24 248.54H186.44M186.42 241.92V245.35M183.82 241.92H189.02M183.82 245.35H189.02M189.00 238.67V242.24M186.40 238.67H191.60M186.40 242.24H191.60M191.58 235.54V239.24M188.98 235.54H194.18M188.98 239.24H194.18M194.16 232.57V236.41M191.56 232.57H196.76M191.56 236.41H196.76M196.74 229.73V233.70M194.14 229.73H199.34M194.14 233.70H199.34M199.32 226.98V231.10M196.72 226.98H201.92M196.72 231.10H201.92M201.90 224.32V228.57M199.30 224.32H204.50M199.30 228.57H204.50M204.48 221.67V226.07M201.88 221.67H207.08M201.88 226.07H207.08M207.06 219.23V223.77M204.46 219.23H209.66M204.46 223.77H209.66M209.64 216.80V221.48M207.04 216.80H212.24M207.04 221.48H212.24M212.22 214.59V219.41M209.62 214.59H214.82M209.62 219.41H214.82M214.80 212.02V216.99M212.20 212.02H217.40M212.20 216.99H217.40M217.38 210.01V215.13M214.78 210.01H219.98M214.78 215.13H219.98M219.96 207.57V212.84M217.36 207.57H222.56M217.36 212.84H222.56M222.54 205.07V210.48M219.94 205.07H225.14M219.94 210.48H225.14M225.12 202.99V208.55M222.52 202.99H227.72M222.52 208.55H227.72M227.70 200.68V206.39M225.10 200.68H230.30M225.10 206.39H230.30M230.28 198.84V204.70M227.68 198.84H232.88M227.68 204.70H232.88M232.86 196.86V202.87M230.26 196.86H235.46M230.26 202.87H235.46M235.44 195.21V201.37M232.84 195.21H238.04M232.84 201.37H238.04M238.02 192.59V198.90M235.42 192.59H240.62M235.42 198.90H240.62M240.60 191.40V197.87M238.00 191.40H243.20M238.00 197.87H243.20M243.18 189.44V196.06M240.58 189.44H245.78M240.58 196.06H245.78M245.76 187.72V194.49M243.16 187.72H248.36M243.16 194.49H248.36M248.34 186.88V193.81M245.74 186.88H250.94M245.74 193.81H250.94M250.92 184.91V191.99M248.32 184.91H253.52M248.32 191.99H253.52M253.50 182.64V189.88M250.90 182.64H256.10M250.90 189.88H256.10M256.08 181.83V189.22M253.48 181.83H258.68M253.48 189.22H258.68M258.66 179.51V187.06M256.06 179.51H261.26M256.06 187.06H261.26M261.24 177.66V185.37M258.64 177.66H263.84M258.64 185.37H263.84M263.82 176.55V184.42M261.22 176.55H266.42M261.22 184.42H266.42M266.40 175.17V183.20M263.80 175.17H269.00M263.80 183.20H269.00M268.98 172.66V180.84M266.38 172.66H271.58M266.38 180.84H271.58M271.56 171.32V179.66M268.96 171.32H274.16M268.96 179.66H274.16M274.14 169.86V178.37M271.54 169.86H276.74M271.54 178.37H276.74M276.72 167.30V175.96M274.12 167.30H279.32M274.12 175.96H279.32M279.30 165.67V174.49M276.70 165.67H281.90M276.70 174.49H281.90M281.88 164.39V173.38M279.28 164.39H284.48M279.28 173.38H284.48M284.46 160.81V169.97M281.86 160.81H287.06M281.86 169.97H287.06M287.04 160.11V169.43M284.44 160.11H289.64M284.44 169.43H289.64M289.62 158.67V168.15M287.02 158.67H292.22M287.02 168.15H292.22M292.20 157.40V167.04M289.60 157.40H294.80M289.60 167.04H294.80M294.78 154.48V164.29M292.18 154.48H297.38M292.18 164.29H297.38M297.36 155.33V165.31M294.76 155.33H299.96M294.76 165.31H299.96M299.94 153.77V163.91M297.34 153.77H302.54M297.34 163.91H302.54M302.52 152.45V162.75M299.92 152.45H305.12M299.92 162.75H305.12M305.10 151.75V162.22M302.50 151.75H307.70M302.50 162.22H307.70M307.68 149.34V159.81M305.08 149.34H310.28M305.08 159.81H310.28M310.26 148.28V158.75M307.66 148.28H312.86M307.66 158.75H312.86M312.84 147.12V157.59M310.24 147.12H315.44M310.24 157.59H315.44M315.42 146.04V156.51M312.82 146.04H318.02M312.82 156.51H318.02M318.00 142.95V153.42M315.40 142.95H320.60M315.40 153.42H320.60M320.58 141.21V151.68M317.98 141.21H323.18M317.98 151.68H323.18M323.16 138.74V149.21M320.56 138.74H325.76M320.56 149.21H325.76M325.74 136.61V147.08M323.14 136.61H328.34M323.14 147.08H328.34M328.32 134.52V144.99M325.72 134.52H330.92M325.72 144.99H330.92M330.90 133.07V143.54M328.30 133.07H333.50M328.30 143.54H333.50M333.48 134.23V144.70M330.88 134.23H336.08M330.88 144.70H336.08M336.06 137.67V148.14M333.46 137.67H338.66M333.46 148.14H338.66M338.64 140.74V151.21M336.04 140.74H341.24M336.04 151.21H341.24M341.22 139.59V150.06M338.62 139.59H343.82M338.62 150.06H343.82M343.80 136.23V146.70M341.20 136.23H346.40M341.20 146.70H346.40M346.38 133.00V143.47M343.78 133.00H348.98M343.78 143.47H348.98M348.96 130.06V140.54M346.36 130.06H351.56M346.36 140.54H351.56M351.54 129.90V140.37M348.94 129.90H354.14M348.94 140.37H354.14M354.12 129.19V139.66M351.52 129.19H356.72M351.52 139.66H356.72M356.70 130.91V141.38M354.10 130.91H359.30M354.10 141.38H359.30M359.28 131.56V142.03M356.68 131.56H361.88M356.68 142.03H361.88M361.86 132.95V143.43M359.26 132.95H364.46M359.26 143.43H364.46M364.44 131.70V142.17M361.84 131.70H367.04M361.84 142.17H367.04M367.02 133.33V143.81M364.42 133.33H369.62M364.42 143.81H369.62M369.60 133.08V143.56M367.00 133.08H372.20M367.00 143.56H372.20M372.18 128.99V139.46M369.58 128.99H374.78M369.58 139.46H374.78M374.76 125.00V135.47M372.16 125.00H377.36M372.16 135.47H377.36M377.34 121.45V131.92M374.74 121.45H379.94M374.74 131.92H379.94M379.92 122.13V132.60M377.32 122.13H382.52M377.32 132.60H382.52M382.50 123.91V134.38M379.90 123.91H385.10M379.90 134.38H385.10M385.08 124.78V135.25M382.48 124.78H387.68M382.48 135.25H387.68M387.66 124.65V135.12M385.06 124.65H390.26M385.06 135.12H390.26M390.24 124.30V134.77M387.64 124.30H392.84M387.64 134.77H392.84M392.82 123.15V133.62M390.22 123.15H395.42M390.22 133.62H395.42M395.40 121.50V131.98M392.80 121.50H398.00M392.80 131.98H398.00M397.98 120.98V131.46M395.38 120.98H400.58M395.38 131.46H400.58M400.56 121.58V132.05M397.96 121.58H403.16M397.96 132.05H403.16M403.14 120.87V131.35M400.54 120.87H405.74M400.54 131.35H405.74M405.72 119.11V129.58M403.12 119.11H408.32M403.12 129.58H408.32M408.30 119.06V129.53M405.70 119.06H410.90M405.70 129.53H410.90M410.88 118.57V129.04M408.28 118.57H413.48M408.28 129.04H413.48M413.46 118.96V129.43M410.86 118.96H416.06M410.86 129.43H416.06M416.04 117.73V128.21M413.44 117.73H418.64M413.44 128.21H418.64M418.62 119.34V129.81M416.02 119.34H421.22M416.02 129.81H421.22M421.20 118.06V128.53M418.60 118.06H423.80M418.60 128.53H423.80M423.78 117.18V127.66M421.18 117.18H426.38M421.18 127.66H426.38M426.36 119.10V129.57M423.76 119.10H428.96M423.76 129.57H428.96M428.94 119.40V129.87M426.34 119.40H431.54M426.34 129.87H431.54M431.52 123.07V133.54M428.92 123.07H434.12M428.92 133.54H434.12M434.10 124.38V134.86M431.50 124.38H436.70M431.50 134.86H436.70M436.68 124.79V135.26M434.08 124.79H439.28M434.08 135.26H439.28M439.26 120.55V131.02M436.66 120.55H441.86M436.66 131.02H441.86M441.84 118.72V129.19M439.24 118.72H444.44M439.24 129.19H444.44M444.42 118.20V128.67M441.82 118.20H447.02M441.82 128.67H447.02M447.00 115.85V126.32M444.40 115.85H449.60M444.40 126.32H449.60M449.58 116.29V126.76M446.98 116.29H452.18M446.98 126.76H452.18M452.16 119.57V130.05M449.56 119.57H454.76M449.56 130.05H454.76M454.74 121.61V132.08M452.14 121.61H457.34M452.14 132.08H457.34M457.32 122.56V133.04M454.72 122.56H459.92M454.72 133.04H459.92M459.90 121.92V132.39M457.30 121.92H462.50M457.30 132.39H462.50M462.48 121.62V132.09M459.88 121.62H465.08M459.88 132.09H465.08M465.06 118.84V129.31M462.46 118.84H467.66M462.46 129.31H467.66M467.64 115.03V125.50M465.04 115.03H470.24M465.04 125.50H470.24M470.22 112.11V122.59M467.62 112.11H472.82M467.62 122.59H472.82" stroke="#0000ff" fill="none" stroke-width="1"/>
<path d="M132.22 336.96H137.42V342.16H132.22ZM134.80 328.33H140.00V333.53H134.80ZM137.38 320.98H142.58V326.18H137.38ZM139.96 314.46H145.16V319.66H139.96ZM142.54 308.39H147.74V313.59H142.54ZM145.12 303.07H150.32V308.27H145.12ZM147.70 298.38H152.90V303.58H147.70ZM150.28 293.61H155.48V298.81H150.28ZM152.86 288.65H158.06V293.85H152.86ZM155.44 283.37H160.64V288.57H155.44ZM158.02 278.31H163.22V283.51H158.02ZM160.60 273.64H165.80V278.84H160.60ZM163.18 269.19H168.38V274.39H163.18ZM165.76 265.01H170.96V270.21H165.76ZM168.34 261.14H173.54V266.34H168.34ZM170.92 257.53H176.12V262.73H170.92ZM173.50 254.11H178.70V259.31H173.50ZM176.08 250.81H181.28V256.01H176.08ZM178.66 247.56H183.86V252.76H178.66ZM181.24 244.29H186.44V249.49H181.24ZM183.82 241.04H189.02V246.24H183.82ZM186.40 237.85H191.60V243.05H186.40ZM188.98 234.79H194.18V239.99H188.98ZM191.56 231.89H196.76V237.09H191.56ZM194.14 229.12H199.34V234.32H194.14ZM196.72 226.44H201.92V231.64H196.72ZM199.30 223.84H204.50V229.04H199.30ZM201.88 221.27H207.08V226.47H201.88ZM204.46 218.90H209.66V224.10H204.46ZM207.04 216.54H212.24V221.74H207.04ZM209.62 214.40H214.82V219.60H209.62ZM212.20 211.90H217.40V217.10H212.20ZM214.78 209.97H219.98V215.17H214.78ZM217.36 207.61H222.56V212.81H217.36ZM219.94 205.17H225.14V210.37H219.94ZM222.52 203.17H227.72V208.37H222.52ZM225.10 200.93H230.30V206.13H225.10ZM227.68 199.17H232.88V204.37H227.68ZM230.26 197.26H235.46V202.46H230.26ZM232.84 195.69H238.04V200.89H232.84ZM235.42 193.15H240.62V198.35H235.42ZM238.00 192.04H243.20V197.24H238.00ZM240.58 190.15H245.78V195.35H240.58ZM243.16 188.50H248.36V193.70H243.16ZM245.74 187.74H250.94V192.94H245.74ZM248.32 185.85H253.52V191.05H248.32ZM250.90 183.66H256.10V188.86H250.90ZM253.48 182.92H258.68V188.12H253.48ZM256.06 180.68H261.26V185.88H256.06ZM258.64 178.92H263.84V184.12H258.64ZM261.22 177.89H266.42V183.09H261.22ZM263.80 176.58H269.00V181.78H263.80ZM266.38 174.15H271.58V179.35H266.38ZM268.96 172.89H274.16V178.09H268.96ZM271.54 171.51H276.74V176.71H271.54ZM274.12 169.03H279.32V174.23H274.12ZM276.70 167.48H281.90V172.68H276.70ZM279.28 166.29H284.48V171.49H279.28ZM281.86 162.79H287.06V167.99H281.86ZM284.44 162.17H289.64V167.37H284.44ZM287.02 160.81H292.22V166.01H287.02ZM289.60 159.62H294.80V164.82H289.60ZM292.18 156.79H297.38V161.99H292.18ZM294.76 157.72H299.96V162.92H294.76ZM297.34 156.24H302.54V161.44H297.34ZM299.92 155.00H305.12V160.20H299.92ZM302.50 154.39H307.70V159.59H302.50ZM305.08 151.97H310.28V157.17H305.08ZM307.66 150.91H312.86V156.11H307.66ZM310.24 149.76H315.44V154.96H310.24ZM312.82 148.68H318.02V153.88H312.82ZM315.40 145.59H320.60V150.79H315.40ZM317.98 143.85H323.18V149.05H317.98ZM320.56 141.37H325.76V146.57H320.56ZM323.14 139.25H328.34V144.45H323.14ZM325.72 137.15H330.92V142.35H325.72ZM328.30 135.71H333.50V140.91H328.30ZM330.88 136.86H336.08V142.06H330.88ZM333.46 140.31H338.66V145.51H333.46ZM336.04 143.37H341.24V148.57H336.04ZM338.62 142.23H343.82V147.43H338.62ZM341.20 138.86H346.40V144.06H341.20ZM343.78 135.64H348.98V140.84H343.78ZM346.36 132.70H351.56V137.90H346.36ZM348.94 132.53H354.14V137.73H348.94ZM351.52 131.83H356.72V137.03H351.52ZM354.10 133.54H359.30V138.74H354.10ZM356.68 134.19H361.88V139.39H356.68ZM359.26 135.59H364.46V140.79H359.26ZM361.84 134.34H367.04V139.54H361.84ZM364.42 135.97H369.62V141.17H364.42ZM367.00 135.72H372.20V140.92H367.00ZM369.58 131.63H374.78V136.83H369.58ZM372.16 127.64H377.36V132.84H372.16ZM374.74 124.09H379.94V129.29H374.74ZM377.32 124.76H382.52V129.96H377.32ZM379.90 126.55H385.10V131.75H379.90ZM382.48 127.41H387.68V132.61H382.48ZM385.06 127.29H390.26V132.49H385.06ZM387.64 126.93H392.84V132.13H387.64ZM390.22 125.79H395.42V130.99H390.22ZM392.80 124.14H398.00V129.34H392.80ZM395.38 123.62H400.58V128.82H395.38ZM397.96 124.22H403.16V129.42H397.96ZM400.54 123.51H405.74V128.71H400.54ZM403.12 121.75H408.32V126.95H403.12ZM405.70 121.69H410.90V126.89H405.70ZM408.28 121.21H413.48V126.41H408.28ZM410.86 121.59H416.06V126.79H410.86ZM413.44 120.37H418.64V125.57H413.44ZM416.02 121.98H421.22V127.18H416.02ZM418.60 120.69H423.80V125.89H418.60ZM421.18 119.82H426.38V125.02H421.18ZM423.76 121.73H428.96V126.93H423.76ZM426.34 122.04H431.54V127.24H426.34ZM428.92 125.71H434.12V130.91H428.92ZM431.50 127.02H436.70V132.22H431.50ZM434.08 127.43H439.28V132.63H434.08ZM436.66 123.19H441.86V128.39H436.66ZM439.24 121.35H444.44V126.55H439.24ZM441.82 120.84H447.02V126.04H441.82ZM444.40 118.49H449.60V123.69H444.40ZM446.98 118.93H452.18V124.13H446.98ZM449.56 122.21H454.76V127.41H449.56ZM452.14 124.25H457.34V129.45H452.14ZM454.72 125.20H459.92V130.40H454.72ZM457.30 124.55H462.50V129.75H457.30ZM459.88 124.25H465.08V129.45H459.88ZM462.46 121.47H467.66V126.67H462.46ZM465.04 117.66H470.24V122.86H465.04ZM467.62 114.75H472.82V119.95H467.62Z" stroke="#0000ff" fill="none" stroke-width="1"/>

<path d="M134.82 339.79V340.80M132.22 339.79H137.42M132.22 340.80H137.42M137.40 331.02V332.11M134.80 331.02H140.00M134.80 332.11H140.00M139.98 323.55V324.73M137.38 323.55H142.58M137.38 324.73H142.58M142.56 316.87V318.12M139.96 316.87H145.16M139.96 318.12H145.16M145.14 310.72V312.05M142.54 310.72H147.74M142.54 312.05H147.74M147.72 305.00V306.42M145.12 305.00H150.32M145.12 306.42H150.32M150.30 299.83V301.34M147.70 299.83H152.90M147.70 301.34H152.90M152.88 294.58V296.17M150.28 294.58H155.48M150.28 296.17H155.48M155.46 289.23V290.90M152.86 289.23H158.06M152.86 290.90H158.06M158.04 283.82V285.58M155.44 283.82H160.64M155.44 285.58H160.64M160.62 278.62V280.46M158.02 278.62H163.22M158.02 280.46H163.22M163.20 273.94V275.88M160.60 273.94H165.80M160.60 275.88H165.80M165.78 269.25V271.28M163.18 269.25H168.38M163.18 271.28H168.38M168.36 264.97V267.08M165.76 264.97H170.96M165.76 267.08H170.96M170.94 261.05V263.25M168.34 261.05H173.54M168.34 263.25H173.54M173.52 257.06V259.35M170.92 257.06H176.12M170.92 259.35H176.12M176.10 253.54V255.92M173.50 253.54H178.70M173.50 255.92H178.70M178.68 250.18V252.66M176.08 250.18H181.28M176.08 252.66H181.28M181.26 246.87V249.43M178.66 246.87H183.86M178.66 249.43H183.86M183.84 243.11V245.77M181.24 243.11H186.44M181.24 245.77H186.44M186.42 239.44V242.19M183.82 239.44H189.02M183.82 242.19H189.02M189.00 236.61V239.45M186.40 236.61H191.60M186.40 239.45H191.60M191.58 234.02V236.95M188.98 234.02H194.18M188.98 236.95H194.18M194.16 230.18V233.21M191.56 230.18H196.76M191.56 233.21H196.76M196.74 227.17V230.29M194.14 227.17H199.34M194.14 230.29H199.34M199.32 224.10V227.32M196.72 224.10H201.92M196.72 227.32H201.92M201.90 222.08V225.38M199.30 222.08H204.50M199.30 225.38H204.50M204.48 219.10V222.50M201.88 219.10H207.08M201.88 222.50H207.08M207.06 216.95V220.45M204.46 216.95H209.66M204.46 220.45H209.66M209.64 215.13V218.72M207.04 215.13H212.24M207.04 218.72H212.24M212.22 210.66V214.35M209.62 210.66H214.82M209.62 214.35H214.82M214.80 208.20V211.98M212.20 208.20H217.40M212.20 211.98H217.40M217.38 205.30V209.17M214.78 205.30H219.98M214.78 209.17H219.98M219.96 203.90V207.87M217.36 203.90H222.56M217.36 207.87H222.56M222.54 201.42V205.49M219.94 201.42H225.14M219.94 205.49H225.14M225.12 198.50V202.66M222.52 198.50H227.72M222.52 202.66H227.72M227.70 197.10V201.36M225.10 197.10H230.30M225.10 201.36H230.30M230.28 193.67V198.03M227.68 193.67H232.88M227.68 198.03H232.88M232.86 193.44V197.90M230.26 193.44H235.46M230.26 197.90H235.46M235.44 189.49V194.05M232.84 189.49H238.04M232.84 194.05H238.04M238.02 187.59V192.24M235.42 187.59H240.62M235.42 192.24H240.62M240.60 186.31V191.06M238.00 186.31H243.20M238.00 191.06H243.20M243.18 185.01V189.86M240.58 185.01H245.78M240.58 189.86H245.78M245.76 184.49V189.43M243.16 184.49H248.36M243.16 189.43H248.36M248.34 181.84V186.89M245.74 181.84H250.94M245.74 186.89H250.94M250.92 179.64V184.78M248.32 179.64H253.52M248.32 184.78H253.52M253.50 179.13V184.37M250.90 179.13H256.10M250.90 184.37H256.10M256.08 175.16V180.50M253.48 175.16H258.68M253.48 180.50H258.68M258.66 170.88V176.33M256.06 170.88H261.26M256.06 176.33H261.26M261.24 171.98V177.52M258.64 171.98H263.84M258.64 177.52H263.84M263.82 171.06V176.70M261.22 171.06H266.42M261.22 176.70H266.42M266.40 167.07V172.82M263.80 167.07H269.00M263.80 172.82H269.00M268.98 167.47V173.31M266.38 167.47H271.58M266.38 173.31H271.58M271.56 163.71V169.66M268.96 163.71H274.16M268.96 169.66H274.16M274.14 163.35V169.39M271.54 163.35H276.74M271.54 169.39H276.74M276.72 162.02V168.17M274.12 162.02H279.32M274.12 168.17H279.32M279.30 158.58V164.83M276.70 158.58H281.90M276.70 164.83H281.90M281.88 156.46V162.81M279.28 156.46H284.48M279.28 162.81H284.48M284.46 156.46V162.91M281.86 156.46H287.06M281.86 162.91H287.06M287.04 154.06V160.61M284.44 154.06H289.64M284.44 160.61H289.64M289.62 151.98V158.63M287.02 151.98H292.22M287.02 158.63H292.22M292.20 151.97V158.73M289.60 151.97H294.80M289.60 158.73H294.80M294.78 146.47V153.33M292.18 146.47H297.38M292.18 153.33H297.38M297.36 145.97V152.92M294.76 145.97H299.96M294.76 152.92H299.96M299.94 144.12V151.18M297.34 144.12H302.54M297.34 151.18H302.54M302.52 143.16V150.32M299.92 143.16H305.12M299.92 150.32H305.12M305.10 141.12V148.39M302.50 141.12H307.70M302.50 148.39H307.70M307.68 140.35V147.71M305.08 140.35H310.28M305.08 147.71H310.28M310.26 137.74V145.21M307.66 137.74H312.86M307.66 145.21H312.86M312.84 137.29V144.86M310.24 137.29H315.44M310.24 144.86H315.44M315.42 135.27V142.95M312.82 135.27H318.02M312.82 142.95H318.02M318.00 132.83V140.61M315.40 132.83H320.60M315.40 140.61H320.60M320.58 128.27V136.15M317.98 128.27H323.18M317.98 136.15H323.18M323.16 131.12V139.11M320.56 131.12H325.76M320.56 139.11H325.76M325.74 127.29V135.38M323.14 127.29H328.34M323.14 135.38H328.34M328.32 126.73V134.92M325.72 126.73H330.92M325.72 134.92H330.92M330.90 125.17V133.47M328.30 125.17H333.50M328.30 133.47H333.50M333.48 122.89V131.29M330.88 122.89H336.08M330.88 131.29H336.08M336.06 122.43V130.94M333.46 122.43H338.66M333.46 130.94H338.66M338.64 122.33V130.94M336.04 122.33H341.24M336.04 130.94H341.24M341.22 121.07V129.79M338.62 121.07H343.82M338.62 129.79H343.82M343.80 120.29V129.11M341.20 120.29H346.40M341.20 129.11H346.40M346.38 117.92V126.76M343.78 117.92H348.98M343.78 126.76H348.98M348.96 115.20V124.04M346.36 115.20H351.56M346.36 124.04H351.56M351.54 115.41V124.27M348.94 115.41H354.14M348.94 124.27H354.14M354.12 115.83V124.70M351.52 115.83H356.72M351.52 124.70H356.72M356.70 116.78V125.66M354.10 116.78H359.30M354.10 125.66H359.30M359.28 116.82V125.72M356.68 116.82H361.88M356.68 125.72H361.88M361.86 115.40V124.31M359.26 115.40H364.46M359.26 124.31H364.46M364.44 112.43V121.36M361.84 112.43H367.04M361.84 121.36H367.04M367.02 110.90V119.83M364.42 110.90H369.62M364.42 119.83H369.62M369.60 109.35V118.30M367.00 109.35H372.20M367.00 118.30H372.20M372.18 107.62V116.58M369.58 107.62H374.78M369.58 116.58H374.78M374.76 105.46V114.44M372.16 105.46H377.36M372.16 114.44H377.36M377.34 106.09V115.08M374.74 106.09H379.94M374.74 115.08H379.94M379.92 107.40V116.40M377.32 107.40H382.52M377.32 116.40H382.52M382.50 108.55V117.57M379.90 108.55H385.10M379.90 117.57H385.10M385.08 108.94V117.96M382.48 108.94H387.68M382.48 117.96H387.68M387.66 108.89V117.93M385.06 108.89H390.26M385.06 117.93H390.26M390.24 108.90V117.96M387.64 108.90H392.84M387.64 117.96H392.84M392.82 110.12V119.19M390.22 110.12H395.42M390.22 119.19H395.42M395.40 106.31V115.39M392.80 106.31H398.00M392.80 115.39H398.00M397.98 103.91V113.00M395.38 103.91H400.58M395.38 113.00H400.58M400.56 102.16V111.27M397.96 102.16H403.16M397.96 111.27H403.16M403.14 100.61V109.73M400.54 100.61H405.74M400.54 109.73H405.74M405.72 99.79V108.93M403.12 99.79H408.32M403.12 108.93H408.32M408.30 99.42V108.56M405.70 99.42H410.90M405.70 108.56H410.90M410.88 99.55V108.71M408.28 99.55H413.48M408.28 108.71H413.48M413.46 101.00V110.17M410.86 101.00H416.06M410.86 110.17H416.06M416.04 102.46V111.65M413.44 102.46H418.64M413.44 111.65H418.64M418.62 103.27V112.47M416.02 103.27H421.22M416.02 112.47H421.22M421.20 104.47V113.68M418.60 104.47H423.80M418.60 113.68H423.80M423.78 103.89V113.11M421.18 103.89H426.38M421.18 113.11H426.38M426.36 99.98V109.22M423.76 99.98H428.96M423.76 109.22H428.96M428.94 95.95V105.20M426.34 95.95H431.54M426.34 105.20H431.54M431.52 95.71V104.98M428.92 95.71H434.12M428.92 104.98H434.12M434.10 98.19V107.46M431.50 98.19H436.70M431.50 107.46H436.70M436.68 100.62V109.92M434.08 100.62H439.28M434.08 109.92H439.28M439.26 101.65V110.96M436.66 101.65H441.86M436.66 110.96H441.86M441.84 97.54V106.86M439.24 97.54H444.44M439.24 106.86H444.44M444.42 93.26V102.59M441.82 93.26H447.02M441.82 102.59H447.02M447.00 93.34V102.69M444.40 93.34H449.60M444.40 102.69H449.60M449.58 96.90V106.26M446.98 96.90H452.18M446.98 106.26H452.18M452.16 98.96V108.33M449.56 98.96H454.76M449.56 108.33H454.76M454.74 97.53V106.91M452.14 97.53H457.34M452.14 106.91H457.34M457.32 93.76V103.16M454.72 93.76H459.92M454.72 103.16H459.92M459.90 91.35V100.76M457.30 91.35H462.50M457.30 100.76H462.50M462.48 89.33V98.75M459.88 89.33H465.08M459.88 98.75H465.08M465.06 91.10V100.54M462.46 91.10H467.66M462.46 100.54H467.66M467.64 92.79V102.24M465.04 92.79H470.24M465.04 102.24H470.24M470.22 92.42V101.88M467.62 92.42H472.82M467.62 101.88H472.82M472.80 89.09V98.57M470.20 89.09H475.40M470.20 98.57H475.40M475.38 87.95V97.44M472.78 87.95H477.98M472.78 97.44H477.98M477.96 91.19V100.69M475.36 91.19H480.56M475.36 100.69H480.56M480.54 93.88V103.39M477.94 93.88H483.14M477.94 103.39H483.14M483.12 92.16V101.69M480.52 92.16H485.72M480.52 101.69H485.72M485.70 89.53V99.07M483.10 89.53H488.30M483.10 99.07H488.30M488.28 88.64V98.19M485.68 88.64H490.88M485.68 98.19H490.88M490.86 88.26V97.83M488.26 88.26H493.46M488.26 97.83H493.46M493.44 90.19V99.77M490.84 90.19H496.04M490.84 99.77H496.04M496.02 90.03V99.62M493.42 90.03H498.62M493.42 99.62H498.62M498.60 92.36V101.97M496.00 92.36H501.20M496.00 101.97H501.20M501.18 94.10V103.72M498.58 94.10H503.78M498.58 103.72H503.78M503.76 94.70V104.33M501.16 94.70H506.36M501.16 104.33H506.36M506.34 95.76V105.41M503.74 95.76H508.94M503.74 105.41H508.94M508.92 96.06V105.72M506.32 96.06H511.52M506.32 105.72H511.52M511.50 95.73V105.40M508.90 95.73H514.10M508.90 105.40H514.10M514.08 94.42V104.10M511.48 94.42H516.68M511.48 104.10H516.68M516.66 93.59V103.29M514.06 93.59H519.26M514.06 103.29H519.26M519.24 91.43V101.14M516.64 91.43H521.84M516.64 101.14H521.84M521.82 90.29V100.01M519.22 90.29H524.42M519.22 100.01H524.42M524.40 88.98V98.72M521.80 88.98H527.00M521.80 98.72H527.00M526.98 89.43V99.17M524.38 89.43H529.58M524.38 99.17H529.58" stroke="#ff0000" fill="none" stroke-width="1"/>
<path d="M132.27 337.75H137.37V342.85H132.27ZM134.85 329.02H139.95V334.12H134.85ZM137.43 321.59H142.53V326.69H137.43ZM140.01 314.94H145.11V320.04H140.01ZM142.59 308.83H147.69V313.93H142.59ZM145.17 303.16H150.27V308.26H145.17ZM147.75 298.04H152.85V303.14H147.75ZM150.33 292.82H155.43V297.92H150.33ZM152.91 287.52H158.01V292.62H152.91ZM155.49 282.15H160.59V287.25H155.49ZM158.07 276.99H163.17V282.09H158.07ZM160.65 272.36H165.75V277.46H160.65ZM163.23 267.71H168.33V272.81H163.23ZM165.81 263.47H170.91V268.57H165.81ZM168.39 259.60H173.49V264.70H168.39ZM170.97 255.66H176.07V260.76H170.97ZM173.55 252.18H178.65V257.28H173.55ZM176.13 248.87H181.23V253.97H176.13ZM178.71 245.60H183.81V250.70H178.71ZM181.29 241.89H186.39V246.99H181.29ZM183.87 238.27H188.97V243.37H183.87ZM186.45 235.48H191.55V240.58H186.45ZM189.03 232.94H194.13V238.04H189.03ZM191.61 229.14H196.71V234.24H191.61ZM194.19 226.18H199.29V231.28H194.19ZM196.77 223.16H201.87V228.26H196.77ZM199.35 221.18H204.45V226.28H199.35ZM201.93 218.25H207.03V223.35H201.93ZM204.51 216.15H209.61V221.25H204.51ZM207.09 214.38H212.19V219.48H207.09ZM209.67 209.95H214.77V215.05H209.67ZM212.25 207.54H217.35V212.64H212.25ZM214.83 204.68H219.93V209.78H214.83ZM217.41 203.34H222.51V208.44H217.41ZM219.99 200.91H225.09V206.01H219.99ZM222.57 198.03H227.67V203.13H222.57ZM225.15 196.68H230.25V201.78H225.15ZM227.73 193.30H232.83V198.40H227.73ZM230.31 193.12H235.41V198.22H230.31ZM232.89 189.22H237.99V194.32H232.89ZM235.47 187.37H240.57V192.47H235.47ZM238.05 186.13H243.15V191.23H238.05ZM240.63 184.89H245.73V189.99H240.63ZM243.21 184.41H248.31V189.51H243.21ZM245.79 181.82H250.89V186.92H245.79ZM248.37 179.66H253.47V184.76H248.37ZM250.95 179.20H256.05V184.30H250.95ZM253.53 175.28H258.63V180.38H253.53ZM256.11 171.06H261.21V176.16H256.11ZM258.69 172.20H263.79V177.30H258.69ZM261.27 171.33H266.37V176.43H261.27ZM263.85 167.39H268.95V172.49H263.85ZM266.43 167.84H271.53V172.94H266.43ZM269.01 164.14H274.11V169.24H269.01ZM271.59 163.82H276.69V168.92H271.59ZM274.17 162.54H279.27V167.64H274.17ZM276.75 159.15H281.85V164.25H276.75ZM279.33 157.09H284.43V162.19H279.33ZM281.91 157.14H287.01V162.24H281.91ZM284.49 154.79H289.59V159.89H284.49ZM287.07 152.75H292.17V157.85H287.07ZM289.65 152.80H294.75V157.90H289.65ZM292.23 147.35H297.33V152.45H292.23ZM294.81 146.89H299.91V151.99H294.81ZM297.39 145.10H302.49V150.20H297.39ZM299.97 144.19H305.07V149.29H299.97ZM302.55 142.21H307.65V147.31H302.55ZM305.13 141.48H310.23V146.58H305.13ZM307.71 138.92H312.81V144.02H307.71ZM310.29 138.52H315.39V143.62H310.29ZM312.87 136.56H317.97V141.66H312.87ZM315.45 134.17H320.55V139.27H315.45ZM318.03 129.66H323.13V134.76H318.03ZM320.61 132.56H325.71V137.66H320.61ZM323.19 128.78H328.29V133.88H323.19ZM325.77 128.27H330.87V133.37H325.77ZM328.35 126.77H333.45V131.87H328.35ZM330.93 124.54H336.03V129.64H330.93ZM333.51 124.14H338.61V129.24H333.51ZM336.09 124.09H341.19V129.19H336.09ZM338.67 122.88H343.77V127.98H338.67ZM341.25 122.15H346.35V127.25H341.25ZM343.83 119.79H348.93V124.89H343.83ZM346.41 117.07H351.51V122.17H346.41ZM348.99 117.29H354.09V122.39H348.99ZM351.57 117.72H356.67V122.82H351.57ZM354.15 118.67H359.25V123.77H354.15ZM356.73 118.72H361.83V123.82H356.73ZM359.31 117.31H364.41V122.41H359.31ZM361.89 114.34H366.99V119.44H361.89ZM364.47 112.82H369.57V117.92H364.47ZM367.05 111.27H372.15V116.37H367.05ZM369.63 109.55H374.73V114.65H369.63ZM372.21 107.40H377.31V112.50H372.21ZM374.79 108.03H379.89V113.13H374.79ZM377.37 109.35H382.47V114.45H377.37ZM379.95 110.51H385.05V115.61H379.95ZM382.53 110.90H387.63V116.00H382.53ZM385.11 110.86H390.21V115.96H385.11ZM387.69 110.88H392.79V115.98H387.69ZM390.27 112.10H395.37V117.20H390.27ZM392.85 108.30H397.95V113.40H392.85ZM395.43 105.90H400.53V111.00H395.43ZM398.01 104.17H403.11V109.27H398.01ZM400.59 102.62H405.69V107.72H400.59ZM403.17 101.81H408.27V106.91H403.17ZM405.75 101.44H410.85V106.54H405.75ZM408.33 101.58H413.43V106.68H408.33ZM410.91 103.04H416.01V108.14H410.91ZM413.49 104.50H418.59V109.60H413.49ZM416.07 105.32H421.17V110.42H416.07ZM418.65 106.52H423.75V111.62H418.65ZM421.23 105.95H426.33V111.05H421.23ZM423.81 102.05H428.91V107.15H423.81ZM426.39 98.03H431.49V103.13H426.39ZM428.97 97.80H434.07V102.90H428.97ZM431.55 100.28H436.65V105.38H431.55ZM434.13 102.72H439.23V107.82H434.13ZM436.71 103.76H441.81V108.86H436.71ZM439.29 99.65H444.39V104.75H439.29ZM441.87 95.37H446.97V100.47H441.87ZM444.45 95.46H449.55V100.56H444.45ZM447.03 99.03H452.13V104.13H447.03ZM449.61 101.09H454.71V106.19H449.61ZM452.19 99.67H457.29V104.77H452.19ZM454.77 95.91H459.87V101.01H454.77ZM457.35 93.51H462.45V98.61H457.35ZM459.93 91.49H465.03V96.59H459.93ZM462.51 93.27H467.61V98.37H462.51ZM465.09 94.97H470.19V100.07H465.09ZM467.67 94.60H472.77V99.70H467.67ZM470.25 91.28H475.35V96.38H470.25ZM472.83 90.15H477.93V95.25H472.83ZM475.41 93.39H480.51V98.49H475.41ZM477.99 96.09H483.09V101.19H477.99ZM480.57 94.37H485.67V99.47H480.57ZM483.15 91.75H488.25V96.85H483.15ZM485.73 90.86H490.83V95.96H485.73ZM488.31 90.49H493.41V95.59H488.31ZM490.89 92.43H495.99V97.53H490.89ZM493.47 92.28H498.57V97.38H493.47ZM496.05 94.61H501.15V99.71H496.05ZM498.63 96.36H503.73V101.46H498.63ZM501.21 96.96H506.31V102.06H501.21ZM503.79 98.04H508.89V103.14H503.79ZM506.37 98.34H511.47V103.44H506.37ZM508.95 98.02H514.05V103.12H508.95ZM511.53 96.71H516.63V101.81H511.53ZM514.11 95.89H519.21V100.99H514.11ZM516.69 93.73H521.79V98.83H516.69ZM519.27 92.60H524.37V97.70H519.27ZM521.85 91.30H526.95V96.40H521.85ZM524.43 91.75H529.53V96.85H524.43Z" stroke="none" fill="#ff0000"/>

<text x="165.5" y="80.60" text-anchor="end">1K</text>
<path d="M176.40 74.70H223.20M176.40 72.10V77.30M223.20 72.10V77.30" stroke="#00ff00" fill="none" stroke-width="1"/>
<path d="M197.20 74.70H202.40M199.80 72.10V77.30" stroke="#00ff00" fill="none" stroke-width="1"/>
<text x="165.5" y="99.28" text-anchor="end">2K</text>
<path d="M176.40 93.38H223.20M176.40 90.78V95.98M223.20 90.78V95.98" stroke="#c0c0c0" fill="none" stroke-width="1"/>
<path d="M197.20 90.78L202.40 95.98M197.20 95.98L202.40 90.78" stroke="#c0c0c0" fill="none" stroke-width="1"/>
<text x="165.5" y="117.96" text-anchor="end">4K</text>
<path d="M176.40 112.06H223.20M176.40 109.46V114.66M223.20 109.46V114.66" stroke="#000000" fill="none" stroke-width="1"/>
<path d="M197.20 112.06H202.40M199.80 109.46V114.66M197.20 109.46L202.40 114.66M197.20 114.66L202.40 109.46" stroke="#000000" fill="none" stroke-width="1"/>
<text x="165.5" y="136.64" text-anchor="end">8K</text>
<path d="M176.40 130.74H223.20M176.40 128.14V133.34M223.20 128.14V133.34" stroke="#0000ff" fill="none" stroke-width="1"/>
<path d="M197.20 128.14H202.40V133.34H197.20Z" stroke="#0000ff" fill="none" stroke-width="1"/>
<text x="165.5" y="155.32" text-anchor="end">12K</text>
<path d="M176.40 149.42H223.20M176.40 146.82V152.02M223.20 146.82V152.02" stroke="#ff0000" fill="none" stroke-width="1"/>
<path d="M197.25 146.87H202.35V151.97H197.25Z" stroke="none" fill="#ff0000" stroke-width="1"/>
<rect x="124.5" y="60.5" width="451.5" height="321.5" fill="none" stroke="#000" stroke-width="1"/>
</svg>
</body></html>
